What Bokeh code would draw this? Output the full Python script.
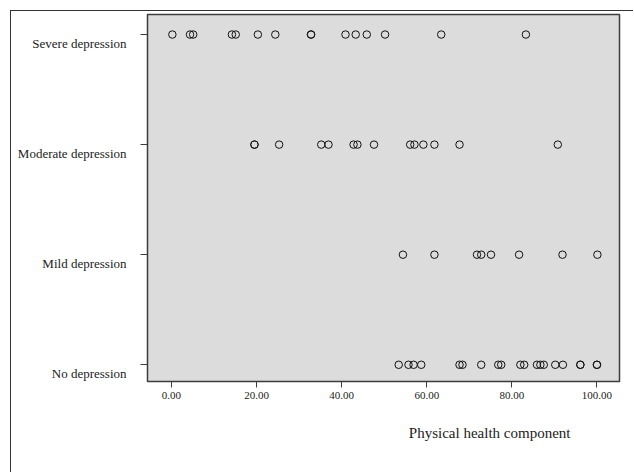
from bokeh.plotting import figure
from bokeh.models import Range1d, FixedTicker, ColumnDataSource, LinearAxis, Title
from bokeh.embed import file_html
from bokeh.resources import INLINE

# ---- data ----
categories = ["No depression", "Mild depression", "Moderate depression", "Severe depression"]

no_depression = [53.4, 55.7, 56.9, 58.7, 67.7, 68.4, 72.8, 76.8, 77.5, 82.0, 82.9,
                 85.9, 86.7, 87.5, 90.2, 92.0, 96.1, 96.1, 100.0, 100.0]
mild_depression = [54.4, 61.8, 71.8, 72.8, 75.1, 81.7, 91.9, 100.1]
moderate_depression = [19.5, 19.5, 25.3, 35.2, 36.9, 42.8, 43.7, 47.6, 56.1, 57.1,
                       59.2, 61.8, 67.7, 90.8]
severe_depression = [0.2, 4.35, 5.1, 14.2, 15.1, 20.3, 24.4, 32.8, 32.8, 40.9, 43.3,
                     45.9, 50.2, 63.4, 83.3]

x_ticks = [0, 20, 40, 60, 80, 100]
x_tick_labels = ["0.00", "20.00", "40.00", "60.00", "80.00", "100.00"]
x_title = "Physical health component"

FONT = "Liberation Serif"
DARK = "#3c3c3c"

groups = [no_depression, mild_depression, moderate_depression, severe_depression]
xs, ys = [], []
for i, vals in enumerate(groups):
    xs.extend(vals)
    ys.extend([i] * len(vals))
pts = ColumnDataSource(dict(x=xs, y=ys))

p = figure(width=623, height=462, output_backend="svg", toolbar_location=None,
           title=None, x_range=Range1d(-5.64, 105.3), y_range=Range1d(-0.152, 3.182),
           min_border_left=136, min_border_right=15, min_border_top=3, min_border_bottom=92)
p.styles = {"position": "absolute", "left": "10px", "top": "10px",
            "border-left": "1px solid #333333", "border-top": "1px solid #333333"}

p.background_fill_color = "#dcdcdd"
p.border_fill_color = "white"
p.outline_line_color = DARK
p.outline_line_width = 1.5
p.xgrid.visible = False
p.ygrid.visible = False

p.scatter("x", "y", source=pts, size=7.5, fill_color=None, line_color="#111111", line_width=1)

# x axis
p.xaxis.ticker = FixedTicker(ticks=x_ticks)
p.xaxis.major_label_overrides = {t: l for t, l in zip(x_ticks, x_tick_labels)}
p.xaxis.minor_tick_line_color = None
p.xaxis.axis_line_color = None
p.xaxis.major_tick_line_color = DARK
p.xaxis.major_tick_in = 0
p.xaxis.major_tick_out = 6
p.xaxis.major_label_standoff = 4
p.xaxis.major_label_text_font = FONT
p.xaxis.major_label_text_font_size = "11px"
p.xaxis.major_label_text_color = "#222222"

# y axis: tick marks at the categories
cat_pos = list(range(len(categories)))
p.yaxis.ticker = FixedTicker(ticks=cat_pos)
p.yaxis.major_label_overrides = {c: "" for c in cat_pos}
p.yaxis.minor_tick_line_color = None
p.yaxis.axis_line_color = None
p.yaxis.major_tick_line_color = DARK
p.yaxis.major_tick_in = 0
p.yaxis.major_tick_out = 7
p.yaxis.major_label_standoff = 0

# category labels sit slightly below their tick marks (as in the SPSS original)
LABEL_SHIFT = 0.08
lab_pos = [c - LABEL_SHIFT for c in cat_pos]
lab_axis = LinearAxis(ticker=FixedTicker(ticks=lab_pos),
                      major_label_overrides={lp: c for lp, c in zip(lab_pos, categories)},
                      axis_line_color=None, major_tick_line_color=None,
                      minor_tick_line_color=None, major_label_standoff=8,
                      major_label_text_font=FONT, major_label_text_font_size="13px",
                      major_label_text_color="#222222")
p.add_layout(lab_axis, "left")

p.add_layout(Title(text=x_title, align="right", offset=49, text_font=FONT,
                   text_font_size="15px", text_font_style="normal",
                   text_color="#222222", standoff=42), "below")

open("out.html", "w").write(file_html(p, INLINE))
